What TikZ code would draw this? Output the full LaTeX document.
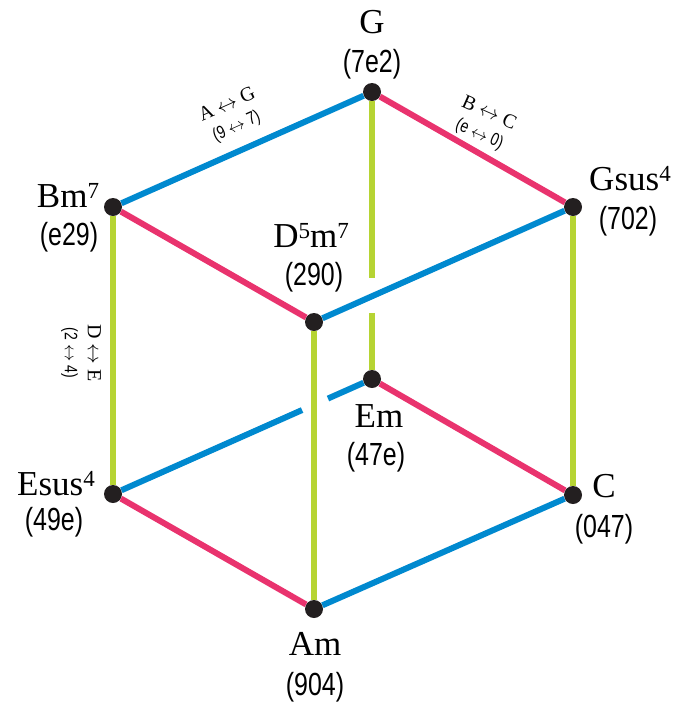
\documentclass[tikz,border=0pt]{standalone}
\usepackage{fontspec}
\setmainfont{Liberation Serif}
\newfontfamily\numfont[FakeStretch=0.78]{Liberation Sans}
\usetikzlibrary{calc}
\definecolor{cblue}{RGB}{0,137,207}
\definecolor{cpink}{RGB}{233,51,110}
\definecolor{cgreen}{RGB}{182,212,51}
\definecolor{dotblack}{RGB}{35,31,32}
\newcommand{\supr}[1]{\raisebox{9pt}{\fontsize{23}{23}\selectfont #1}}
\begin{document}
\begin{tikzpicture}[x=1pt,y=-1pt,
  vtx/.style={circle,fill=dotblack,inner sep=0pt,minimum size=18pt},
  chord/.style={anchor=base,inner sep=0pt,font=\fontsize{35}{40}\selectfont},
  code/.style={anchor=base,inner sep=0pt,font=\numfont\fontsize{32}{34}\selectfont},
  elab/.style={align=center,inner sep=0pt,font=\fontsize{20}{22}\selectfont},
  bl/.style={draw=cblue,line width=6pt},
  pk/.style={draw=cpink,line width=6pt},
  gr/.style={draw=cgreen,line width=6pt}]
\useasboundingbox (0,0) rectangle (678,702);
% vertices
\node[vtx] (G) at (372,92) {};
\node[vtx] (Bm) at (113,207) {};
\node[vtx] (Gs) at (573,207) {};
\node[vtx] (D) at (314,322) {};
\node[vtx] (Em) at (372,379) {};
\node[vtx] (Es) at (113,494) {};
\node[vtx] (C) at (573,495) {};
\node[vtx] (Am) at (314,609) {};
% gap coordinates
\coordinate (ga) at ($(G)!0.648!(Em)$);
\coordinate (gb) at ($(G)!0.770!(Em)$);
\coordinate (gc) at ($(Em)!0.170!(Es)$);
\coordinate (gd) at ($(Em)!0.270!(Es)$);
% edges
\draw[gr] (G) -- (ga);
\draw[gr] (gb) -- (Em);
\draw[bl] (Em) -- (gc);
\draw[bl] (gd) -- (Es);
\draw[pk] (Em) -- (C);
\draw[bl] (G) -- (Bm);
\draw[pk] (G) -- (Gs);
\draw[pk] (Bm) -- (D);
\draw[gr] (Bm) -- (Es);
\draw[bl] (Gs) -- (D);
\draw[gr] (Gs) -- (C);
\draw[gr] (D) -- (Am);
\draw[pk] (Es) -- (Am);
\draw[bl] (Am) -- (C);
% labels
\node[chord] (lG) at (372,33) {G};
\node[code] (cG) at (372,72) {(7e2)};
\node[chord] (lBm) at (68,207) {Bm\supr{7}};
\node[code] (cBm) at (69,245) {(e29)};
\node[chord] (lGs) at (630,190) {Gsus\supr{4}};
\node[code] (cGs) at (628,229) {(702)};
\node[chord] (lD) at (311,247) {D\supr{5}m\supr{7}};
\node[code] (cD) at (314,285) {(290)};
\node[chord] (lEm) at (379,427) {Em};
\node[code] (cEm) at (376,465) {(47e)};
\node[chord] (lEs) at (56,495) {Esus\supr{4}};
\node[code] (cEs) at (54,530) {(49e)};
\node[chord] (lC) at (604,497) {C};
\node[code] (cC) at (604,537) {(047)};
\node[chord] (lAm) at (315,655) {Am};
\node[code] (cAm) at (315,695) {(904)};
% edge labels
\node[elab,rotate=24] (eAG) at (232,116) {A $\leftrightarrow$ G\\[1pt]{\numfont\fontsize{18}{18}\selectfont (9 $\leftrightarrow$ 7)}};
\node[elab,rotate=-24] (eBC) at (484,124) {B $\leftrightarrow$ C\\[1pt]{\numfont\fontsize{18}{18}\selectfont (e $\leftrightarrow$ 0)}};
\node[elab,rotate=-90] (eDE) at (81,353) {D $\leftrightarrow$ E\\[1pt]{\numfont\fontsize{18}{18}\selectfont (2 $\leftrightarrow$ 4)}};
\end{tikzpicture}
\end{document}
